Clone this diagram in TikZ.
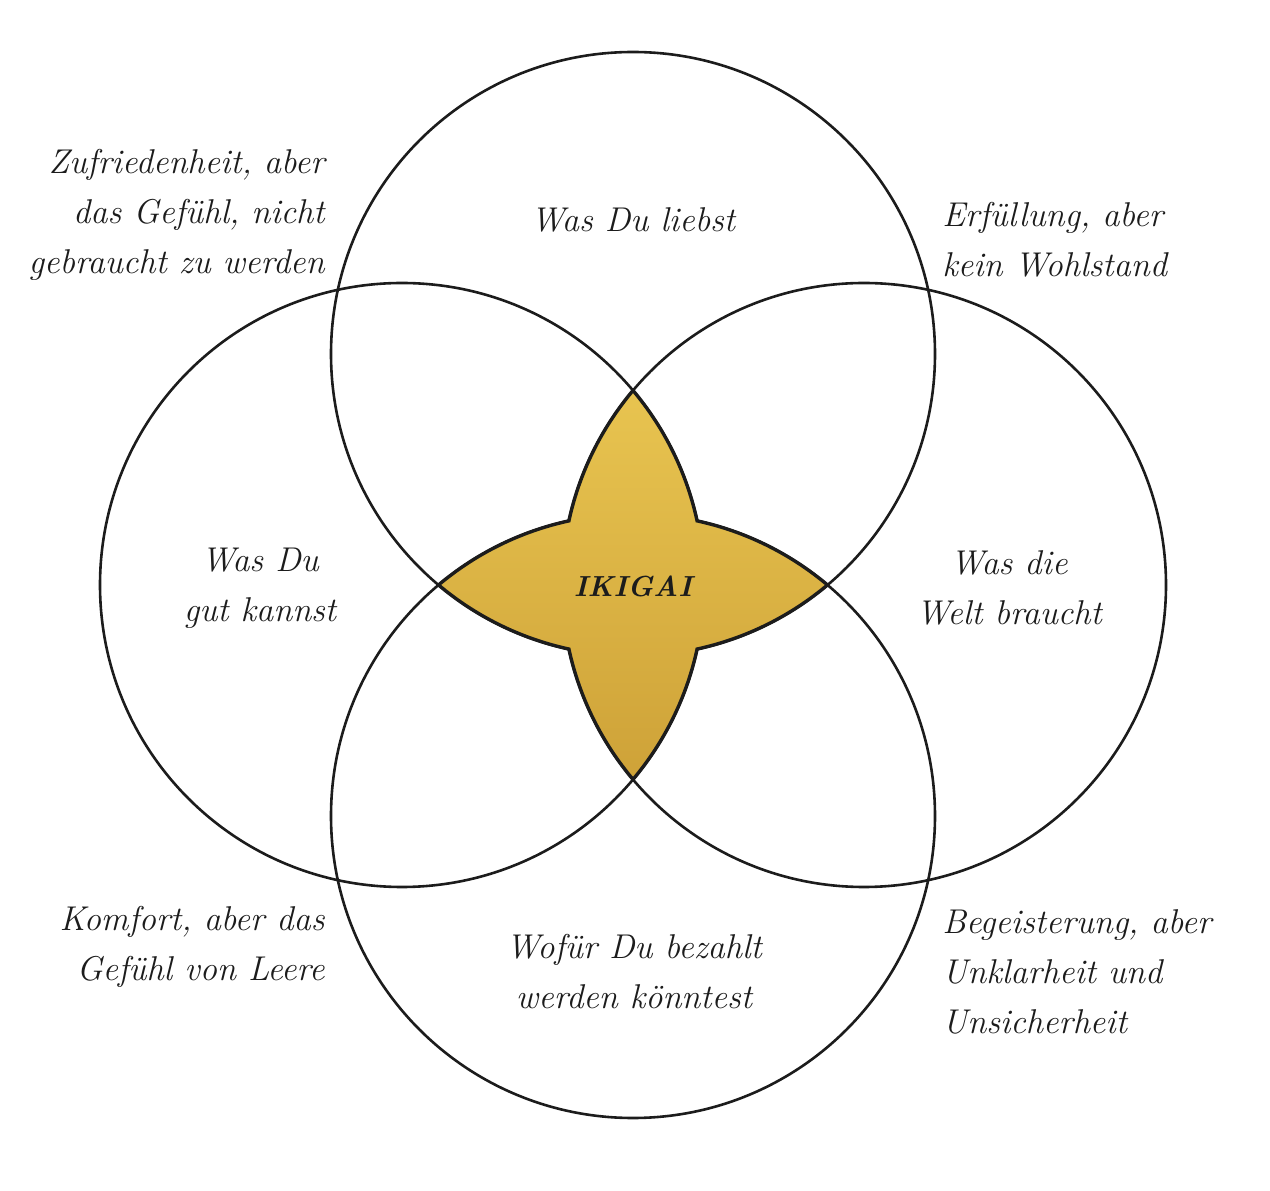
\documentclass[tikz,border=0pt]{standalone}
\usepackage{xcolor}
\definecolor{ink}{RGB}{28,28,28}
\definecolor{goldtop}{RGB}{232,196,80}
\definecolor{goldbot}{RGB}{206,162,56}

\begin{document}
\begin{tikzpicture}[x=0.5pt,y=0.5pt,
    ring/.style={draw=ink,line width=1.3pt},
    label/.style={font=\fontsize{17.2}{25}\selectfont\itshape,text=ink,inner sep=0pt}]
          \useasboundingbox (0,0) rectangle (1270,1190);
          % centres of the four circles
          \coordinate (love) at (633,836);
          \coordinate (good) at (402,605);
          \coordinate (need) at (864,605);
          \coordinate (paid) at (633,374);
          \coordinate (tip) at (633,799.53);
          \draw[ring] (love) circle (302);
          \draw[ring] (good) circle (302);
          \draw[ring] (need) circle (302);
          \draw[ring] (paid) circle (302);
          % golden star in the middle
          \shadedraw[top color=goldtop,bottom color=goldbot,draw=ink,line width=1.7pt]
            (tip) arc[start angle=40.10,end angle=12.26,radius=302]
            arc[start angle=77.74,end angle=49.90,radius=302]
            arc[start angle=-49.90,end angle=-77.74,radius=302]
            arc[start angle=-12.26,end angle=-40.10,radius=302]
            arc[start angle=220.10,end angle=192.26,radius=302]
            arc[start angle=257.74,end angle=229.90,radius=302]
            arc[start angle=130.10,end angle=102.26,radius=302]
            arc[start angle=167.74,end angle=139.90,radius=302] -- cycle;
          \node[label,font=\fontsize{14.5}{25}\selectfont\itshape\bfseries] (ikigai) at (633,604) {IKIGAI};
          % the four circles
          \node[label] (loveTxt) at (633,970) {Was Du liebst};
          \node[label,align=center] (goodTxt) at (260,602) {Was Du\\gut kannst};
          \node[label,align=center] (needTxt) at (1009,602) {Was die\\Welt braucht};
          \node[label,align=center] (paidTxt) at (634,218) {Wofür Du bezahlt\\werden könntest};
          % the four corners
          \node[label,align=right,anchor=east] (lgTxt) at (325,975) {Zufriedenheit, aber\\das Gefühl, nicht\\gebraucht zu werden};
          \node[label,align=left,anchor=west] (lnTxt) at (942,950) {Erfüllung, aber\\kein Wohlstand};
          \node[label,align=right,anchor=east] (gpTxt) at (325,243) {Komfort, aber das\\Gefühl von Leere};
          \node[label,align=left,anchor=west] (npTxt) at (942,218) {Begeisterung, aber\\Unklarheit und\\Unsicherheit};
        \end{tikzpicture}
\end{document}
